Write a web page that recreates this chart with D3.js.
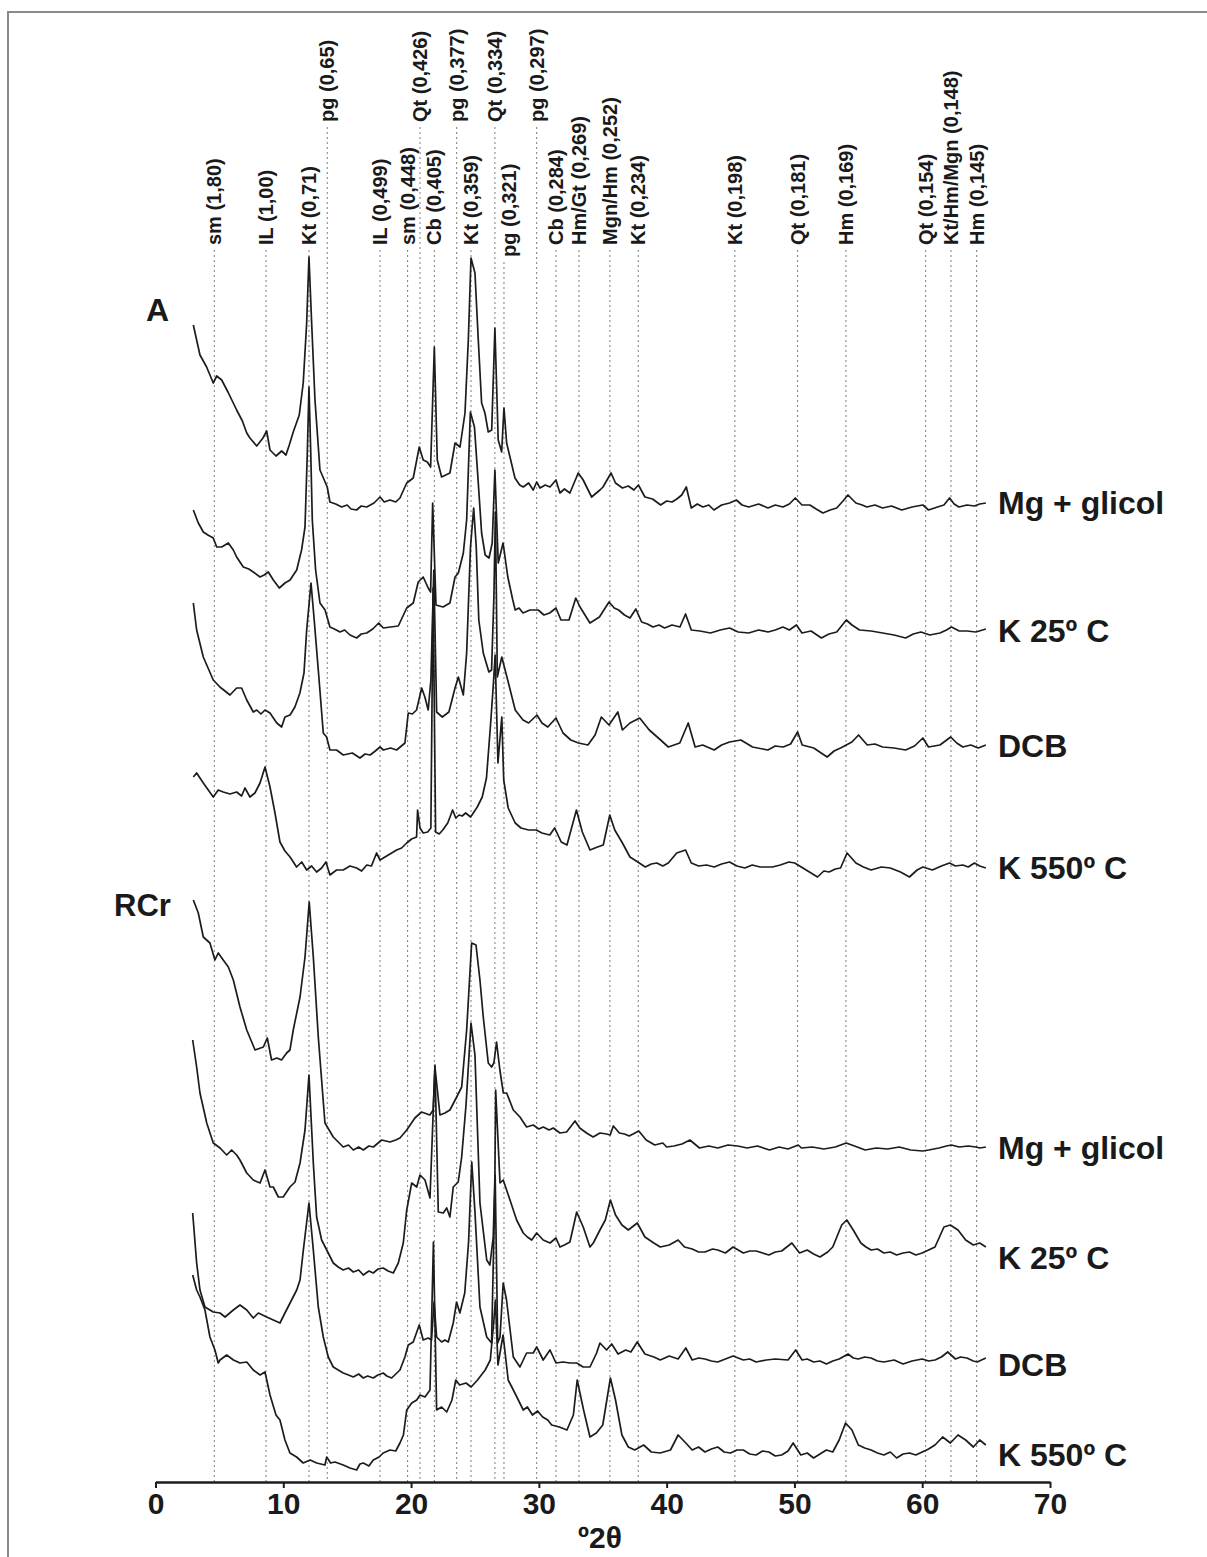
<!DOCTYPE html>
<html>
<head>
<meta charset="utf-8">
<script src="https://cdn.jsdelivr.net/npm/d3@7"></script>
<style>
  body { margin: 0; background: #fff; }
  svg text { font-family: "Liberation Sans", Arial, Helvetica, sans-serif; font-weight: bold; fill: #1a1a1a; }
</style>
</head>
<body>
<svg id="chart" width="1207" height="1557"></svg>
<script>
// ---- X axis ----
const xTicks = [0, 10, 20, 30, 40, 50, 60, 70];

// ---- Reference reflections: mineral (d-spacing in nm) and position in °2θ ----
const peakNames = ["sm (1,80)", "IL (1,00)", "Kt (0,71)", "pg (0,65)", "IL (0,499)", "sm (0,448)",
  "Qt (0,426)", "Cb (0,405)", "pg (0,377)", "Kt (0,359)", "Qt (0,334)", "pg (0,321)", "pg (0,297)",
  "Cb (0,284)", "Hm/Gt (0,269)", "Mgn/Hm (0,252)", "Kt (0,234)", "Kt (0,198)", "Qt (0,181)",
  "Hm (0,169)", "Qt (0,154)", "Kt/Hm/Mgn (0,148)", "Hm (0,145)"];
const peakPos = [4.60, 8.65, 12.01, 13.44, 17.57, 19.73, 20.70, 21.82, 23.57, 24.69, 26.56, 27.27, 29.83,
  31.34, 33.14, 35.56, 37.78, 45.34, 50.25, 54.03, 60.27, 62.25, 64.26];
// label row: 0 = lower row, 1 = upper row, 2 = shifted below the lower row
const peakRow = [0, 0, 0, 1, 0, 0, 1, 0, 1, 0, 1, 2, 1, 0, 0, 0, 0, 0, 0, 0, 0, 0, 0];

// ---- Diffractograms: [°2θ, relative intensity] ----
// Sample A
const aMgGlicol = [[2.96,182],[3.48,152],[4.0,140],[4.52,124],[4.79,131],[5.18,127],[5.67,115],[6.35,97],[6.8,86],[7.14,74],[7.39,69],[7.92,61],[8.41,69],[8.70,76],[8.96,57],[9.43,51],[9.87,56],[10.21,52],[10.47,62],[10.78,75],[11.25,92],[11.56,124],[11.83,184],[12.01,250],[12.22,184],[12.48,107],[12.87,37],[13.44,20],[13.65,5],[14.1,3],[14.57,0],[15.0,2],[15.3,-2],[15.74,-3],[16.1,1],[16.53,0],[17.1,4],[17.57,10],[17.9,5],[18.35,7],[18.8,5],[19.13,9],[19.66,24],[20.17,29],[20.64,60],[20.95,47],[21.27,45],[21.53,40],[21.82,160],[22.05,47],[22.39,30],[23.04,34],[23.44,64],[23.83,60],[24.22,94],[24.48,167],[24.69,249],[25.0,234],[25.26,167],[25.52,104],[25.78,94],[26.04,75],[26.31,77],[26.56,179],[26.82,67],[27.09,55],[27.27,99],[27.48,64],[27.74,50],[28.13,29],[28.5,22],[28.78,20],[29.2,24],[29.56,17],[29.83,25],[30.09,19],[30.5,22],[30.87,20],[31.34,27],[31.65,14],[32.0,18],[32.43,14],[33.08,34],[33.47,27],[34.13,10],[34.5,14],[34.78,17],[35.02,20],[35.65,34],[36.0,24],[36.54,19],[37.0,21],[37.44,17],[37.79,22],[38.3,10],[38.9,8],[39.53,2],[40.0,6],[40.42,5],[40.8,8],[41.18,12],[41.54,20],[41.93,-1],[42.4,3],[42.84,0],[43.3,2],[43.7,-3],[44.3,2],[44.92,4],[45.46,7],[45.9,2],[46.42,0],[47.2,3],[47.93,-1],[48.5,2],[49.1,0],[49.6,3],[50.07,9],[50.59,2],[51.21,2],[51.7,-2],[52.23,-6],[52.8,-3],[53.31,-1],[53.8,6],[54.19,12],[54.81,4],[55.3,2],[55.67,0],[56.3,2],[56.9,-1],[57.6,1],[58.4,-3],[59.2,0],[60.05,2],[60.49,-3],[61.2,0],[61.7,2],[62.14,9],[62.5,3],[62.87,0],[63.5,2],[64.09,1],[64.5,3],[64.98,4]];
const aK25 = [[2.96,123],[3.35,110],[3.74,101],[4.1,98],[4.52,95],[4.79,86],[5.18,86],[5.7,90],[6.09,83],[6.35,76],[6.87,66],[7.3,64],[7.65,61],[8.18,56],[8.5,58],[8.83,61],[9.22,53],[9.69,45],[10.13,50],[10.53,53],[11.05,63],[11.43,83],[11.7,106],[11.88,180],[12.01,246],[12.15,180],[12.27,113],[12.53,63],[12.87,30],[13.27,23],[13.65,6],[14.0,4],[14.44,1],[14.8,3],[15.22,-2],[15.74,-5],[16.1,-1],[16.53,0],[17.0,4],[17.47,10],[17.83,5],[18.4,6],[19.0,7],[19.66,25],[20.17,30],[20.56,51],[20.95,56],[21.34,45],[21.53,41],[21.69,130],[21.95,28],[22.5,26],[23.04,30],[23.44,56],[23.7,60],[24.09,80],[24.35,113],[24.64,221],[24.96,206],[25.26,150],[25.52,100],[25.8,78],[26.1,75],[26.35,90],[26.56,163],[26.82,70],[27.2,90],[27.57,56],[27.96,33],[28.15,23],[28.45,25],[28.76,20],[29.3,23],[29.95,23],[30.4,18],[30.85,20],[31.34,25],[31.73,13],[32.36,13],[32.89,35],[33.22,26],[34.0,10],[34.74,16],[35.49,31],[35.9,25],[36.24,23],[36.7,18],[37.13,15],[37.59,24],[38.04,11],[38.5,9],[38.93,6],[39.4,8],[39.84,5],[40.42,8],[41.04,6],[41.48,19],[41.93,3],[42.6,2],[43.43,0],[44.2,3],[44.92,5],[45.6,1],[46.42,0],[47.2,3],[47.93,1],[48.5,3],[49.1,6],[49.6,3],[50.16,8],[50.59,0],[51.3,2],[52.11,-5],[52.7,-1],[53.31,1],[54.06,13],[54.5,8],[55.1,3],[56.0,2],[56.9,0],[57.8,-2],[58.7,-5],[59.3,-1],[59.9,1],[60.6,-2],[61.39,0],[61.9,3],[62.29,6],[62.9,2],[63.49,2],[64.2,1],[64.98,4]];
const aDCB = [[2.96,144],[3.22,117],[3.74,90],[4.52,67],[5.04,60],[5.83,52],[6.35,59],[6.74,59],[7.14,47],[7.65,35],[7.92,37],[8.25,33],[8.57,37],[8.96,34],[9.49,24],[9.87,20],[10.13,30],[10.53,32],[10.91,40],[11.3,54],[11.62,74],[11.83,117],[12.17,164],[12.42,127],[12.74,77],[13.13,14],[13.39,10],[13.65,-3],[14.17,-3],[14.69,-8],[15.4,-6],[16.0,-11],[16.4,-7],[16.8,-8],[17.2,-4],[17.57,0],[17.83,-3],[18.4,-1],[18.87,-3],[19.52,4],[19.78,34],[20.1,33],[20.43,37],[20.83,59],[21.08,50],[21.34,37],[21.55,67],[21.78,177],[22.0,35],[22.44,30],[22.96,35],[23.44,59],[23.7,70],[24.09,52],[24.35,94],[24.65,200],[24.9,239],[25.1,200],[25.3,127],[25.65,94],[26.09,75],[26.3,77],[26.48,150],[26.6,235],[26.75,70],[27.1,90],[27.3,80],[27.56,67],[28.15,37],[28.76,27],[29.2,24],[29.85,32],[30.24,24],[30.7,20],[31.34,29],[31.89,14],[32.5,7],[33.1,4],[33.84,2],[34.4,12],[34.89,30],[35.49,22],[36.18,35],[36.54,17],[37.13,24],[37.89,29],[38.64,17],[39.53,7],[40.13,0],[41.03,4],[41.69,24],[42.23,0],[42.82,2],[43.72,-3],[44.3,2],[44.92,5],[45.81,7],[46.72,0],[47.92,-3],[48.5,1],[49.12,0],[49.7,3],[50.25,15],[50.61,2],[51.51,-1],[52.56,-10],[53.1,-4],[53.61,-1],[54.5,5],[55.02,12],[55.7,2],[56.3,3],[56.9,0],[57.8,-1],[58.7,-3],[59.4,1],[60.05,9],[60.49,0],[61.39,2],[62.23,10],[62.7,4],[63.18,0],[63.8,2],[64.39,-1],[64.98,2]];
const aK550 = [[2.96,91],[3.22,95],[3.74,85],[4.52,71],[4.91,78],[5.3,76],[5.83,74],[6.35,76],[6.74,72],[7.0,80],[7.39,71],[7.78,75],[8.18,85],[8.57,101],[8.96,81],[9.35,55],[9.74,26],[10.13,17],[10.53,11],[11.04,1],[11.44,6],[11.83,-2],[12.22,2],[12.61,-4],[13.0,0],[13.34,6],[13.65,-7],[14.17,-2],[14.69,-2],[15.22,2],[15.74,0],[16.13,-3],[16.53,3],[16.9,2],[17.3,15],[17.57,8],[17.83,10],[18.35,14],[18.87,18],[19.26,20],[19.66,25],[20.04,29],[20.43,31],[20.51,58],[20.7,40],[20.95,35],[21.3,36],[21.55,40],[21.72,280],[21.92,36],[22.2,34],[22.48,38],[22.87,45],[23.25,58],[23.5,50],[23.75,53],[24.0,52],[24.27,55],[24.66,51],[24.92,56],[25.18,61],[25.57,71],[25.9,90],[26.2,140],[26.42,180],[26.58,213],[26.8,105],[27.1,151],[27.25,88],[27.6,60],[28.15,45],[28.6,40],[29.2,38],[29.8,38],[30.24,35],[30.85,33],[31.24,40],[31.75,26],[32.2,23],[32.94,58],[33.4,36],[34.0,18],[34.59,21],[35.04,23],[35.55,53],[35.94,38],[36.54,25],[37.13,11],[37.74,6],[38.33,1],[38.8,4],[39.23,5],[39.7,2],[40.13,5],[40.79,15],[41.48,18],[41.93,5],[42.5,2],[43.13,3],[43.72,1],[44.3,4],[44.92,6],[45.5,2],[46.12,0],[46.7,3],[47.32,1],[48.28,1],[48.9,3],[49.56,6],[50.02,5],[50.92,-2],[51.81,-9],[52.3,-3],[52.71,-4],[53.2,-1],[53.61,0],[54.12,15],[54.81,5],[55.4,1],[56.0,-2],[56.8,1],[57.5,0],[58.3,-4],[59.0,-9],[59.6,-2],[60.05,1],[60.8,-2],[61.5,2],[62.14,5],[62.6,2],[63.18,3],[63.6,1],[64.09,5],[64.5,2],[64.98,0]];
// Sample RCr
const rMgGlicol = [[2.96,248],[3.35,235],[3.74,211],[4.26,205],[4.65,188],[4.91,195],[5.3,188],[5.7,181],[6.09,168],[6.61,141],[7.14,118],[7.79,98],[8.44,101],[8.75,110],[9.08,88],[9.5,90],[9.86,88],[10.26,95],[10.52,98],[10.78,118],[11.31,151],[11.7,191],[12.03,246],[12.35,191],[12.74,111],[13.26,25],[13.91,11],[14.3,6],[14.69,1],[15.1,3],[15.48,-2],[15.9,1],[16.26,-2],[16.7,2],[17.05,1],[17.7,8],[18.35,6],[18.8,8],[19.13,10],[19.66,18],[20.3,30],[20.82,36],[21.47,33],[21.73,38],[21.87,81],[22.26,33],[22.65,35],[23.04,38],[23.57,51],[23.96,61],[24.35,118],[24.74,205],[25.08,203],[25.39,168],[25.65,131],[26.04,85],[26.3,81],[26.48,85],[26.69,106],[26.95,78],[27.22,55],[27.48,55],[28.0,38],[28.52,31],[29.04,21],[29.56,23],[30.0,19],[30.35,21],[30.8,18],[31.13,20],[31.65,15],[32.17,16],[32.83,27],[33.2,20],[33.73,15],[34.25,11],[34.78,15],[35.3,14],[35.58,13],[35.83,22],[36.3,15],[36.7,14],[37.07,12],[37.82,17],[38.4,8],[39.07,3],[39.7,5],[40.0,1],[40.57,2],[41.2,4],[41.82,8],[42.57,0],[43.3,2],[44.0,0],[44.8,3],[45.56,2],[46.3,0],[47.1,2],[48.05,-2],[48.8,1],[49.5,-1],[50.3,3],[50.55,0],[51.4,1],[52.3,-1],[53.2,1],[54.05,5],[54.7,2],[55.54,-2],[56.4,0],[57.3,-1],[58.2,1],[59.1,-2],[60.03,-3],[60.52,-2],[61.3,0],[61.9,2],[62.28,3],[62.9,1],[63.6,2],[64.2,1],[64.52,0],[64.98,1]];
const rK25 = [[2.91,215],[3.22,188],[3.48,162],[4.01,132],[4.52,112],[5.05,107],[5.57,100],[5.96,105],[6.35,100],[6.61,95],[7.14,82],[7.65,75],[8.18,72],[8.57,85],[8.96,68],[9.22,68],[9.61,58],[10.0,58],[10.52,68],[10.92,73],[11.31,92],[11.7,125],[12.01,180],[12.35,92],[12.61,38],[13.0,15],[13.4,5],[13.91,-8],[14.3,-12],[14.69,-15],[15.1,-13],[15.48,-17],[15.9,-15],[16.26,-20],[16.7,-16],[17.04,-18],[17.42,-14],[17.82,-13],[18.2,-16],[18.61,-18],[19.0,-8],[19.39,12],[19.66,45],[20.05,72],[20.44,68],[20.7,80],[21.09,75],[21.48,57],[21.87,190],[22.13,43],[22.52,42],[22.79,47],[23.04,38],[23.3,68],[23.69,73],[23.96,98],[24.3,150],[24.69,232],[25.0,200],[25.39,52],[25.92,-5],[26.17,-10],[26.43,18],[26.56,78],[26.62,165],[26.96,72],[27.21,75],[27.74,55],[28.26,35],[28.78,22],[29.1,18],[29.44,15],[29.83,22],[30.34,15],[30.87,12],[31.34,17],[31.65,8],[32.0,10],[32.43,13],[32.96,43],[33.47,28],[34.0,8],[34.26,12],[34.78,25],[35.2,35],[35.6,55],[36.0,40],[36.5,30],[37.0,25],[37.7,32],[38.3,18],[39.0,12],[39.5,8],[40.2,10],[40.9,15],[41.4,8],[42.0,6],[42.5,3],[43.0,3],[43.6,6],[44.0,5],[44.6,2],[45.2,8],[46.0,2],[46.5,4],[47.0,4],[48.0,0],[48.5,3],[49.0,4],[49.8,12],[50.4,2],[51.0,5],[51.5,1],[52.0,-2],[52.6,3],[53.0,8],[53.7,30],[54.1,35],[54.6,25],[55.2,12],[55.6,8],[56.0,5],[56.5,6],[57.0,2],[57.5,3],[58.0,0],[58.5,2],[59.0,3],[59.5,0],[60.0,2],[60.5,5],[61.0,8],[61.7,28],[62.2,30],[62.8,25],[63.4,15],[64.0,10],[64.5,12],[64.98,8]];
const rDCB = [[2.91,149],[3.22,99],[3.48,72],[3.87,55],[4.52,50],[5.05,49],[5.44,45],[6.09,52],[6.61,57],[7.14,52],[7.65,44],[8.05,49],[8.7,45],[9.22,42],[9.74,39],[10.13,49],[10.65,62],[11.05,72],[11.31,82],[11.57,112],[12.01,159],[12.35,112],[12.74,55],[13.13,25],[13.52,5],[13.91,-5],[14.3,-8],[14.69,-11],[15.1,-13],[15.48,-15],[15.9,-12],[16.26,-16],[16.6,-14],[17.04,-16],[17.4,-13],[17.82,-11],[18.1,-14],[18.48,-16],[19.13,-8],[19.52,5],[19.78,17],[20.17,20],[20.64,37],[20.95,22],[21.34,24],[21.6,22],[21.8,60],[22.0,25],[22.39,20],[22.65,22],[22.91,20],[23.3,39],[23.56,60],[23.82,49],[24.2,69],[24.5,120],[24.75,200],[25.0,150],[25.39,55],[25.92,25],[26.3,19],[26.58,187],[26.78,19],[26.96,25],[27.21,79],[27.47,62],[28.0,5],[28.52,-5],[29.04,9],[29.56,9],[29.83,15],[30.34,2],[30.87,12],[31.34,-1],[31.9,0],[32.43,-1],[32.96,-1],[33.47,-5],[34.0,-5],[34.52,9],[34.78,19],[35.3,12],[35.7,18],[36.2,8],[36.8,12],[37.2,10],[37.7,20],[38.3,8],[39.0,5],[39.5,2],[40.2,6],[40.9,3],[41.5,14],[42.0,2],[42.5,4],[43.0,3],[43.5,1],[44.0,0],[44.6,3],[45.2,6],[46.0,2],[46.5,3],[47.0,0],[47.8,2],[48.5,3],[49.5,2],[50.1,12],[50.6,2],[51.0,3],[51.5,0],[52.0,1],[52.5,-2],[53.0,1],[53.5,3],[54.2,8],[54.6,4],[55.0,3],[55.5,5],[56.0,4],[56.5,1],[57.0,0],[57.8,2],[58.5,-2],[59.2,1],[60.0,3],[60.5,1],[61.0,2],[61.5,5],[62.0,10],[62.6,3],[63.0,5],[63.5,4],[64.0,1],[64.3,0],[64.98,4]];
const rK550 = [[2.91,180],[3.22,165],[3.48,158],[3.87,145],[4.26,118],[4.65,105],[4.91,92],[5.05,95],[5.57,100],[6.1,95],[6.61,92],[7.14,93],[7.65,85],[8.18,80],[8.57,83],[8.96,60],[9.43,40],[9.74,35],[10.13,15],[10.52,2],[11.04,-2],[11.56,-8],[12.1,-5],[12.61,-8],[13.26,-10],[13.4,-2],[13.7,-8],[14.04,-7],[14.69,-10],[15.22,-13],[15.74,-15],[16.0,-9],[16.26,-8],[16.7,-11],[17.04,-5],[17.5,-2],[17.82,2],[18.35,5],[18.8,4],[19.13,12],[19.4,20],[19.66,45],[20.05,52],[20.44,55],[20.7,60],[21.09,58],[21.48,65],[21.75,213],[22.0,45],[22.39,48],[22.79,43],[23.2,55],[23.5,75],[23.8,70],[24.3,72],[24.7,68],[25.2,75],[25.8,85],[26.2,95],[26.45,130],[26.6,155],[26.8,90],[27.2,120],[27.6,75],[28.2,60],[28.78,45],[29.1,48],[29.5,40],[29.9,44],[30.3,38],[30.7,35],[31.0,30],[31.6,28],[32.2,25],[32.7,40],[33.0,75],[33.5,45],[34.0,18],[34.5,22],[35.0,30],[35.6,77],[36.0,55],[36.5,20],[37.0,8],[37.5,5],[38.2,10],[38.8,3],[39.5,2],[40.3,5],[40.9,20],[41.5,12],[42.0,5],[42.5,8],[43.0,3],[43.5,6],[44.0,8],[44.5,3],[45.0,2],[45.5,5],[46.0,5],[46.5,1],[47.0,0],[47.5,4],[48.0,3],[48.5,-1],[49.0,0],[49.5,4],[49.9,12],[50.5,0],[51.0,2],[51.5,-3],[52.0,1],[52.5,5],[53.0,3],[53.5,15],[54.0,32],[54.5,25],[55.0,10],[55.5,7],[56.0,5],[56.5,2],[57.0,0],[57.5,3],[58.0,-3],[58.5,1],[59.0,2],[59.5,0],[60.0,3],[60.5,6],[61.0,10],[61.6,18],[62.2,12],[62.8,20],[63.4,15],[64.0,8],[64.5,15],[64.98,10]];

const seriesData = [aMgGlicol, aK25, aDCB, aK550, rMgGlicol, rK25, rDCB, rK550];
const seriesNames = ["Mg + glicol", "K 25º C", "DCB", "K 550º C", "Mg + glicol", "K 25º C", "DCB", "K 550º C"];
// vertical offset of each pattern in the stack (intensity units)
const seriesOffsets = [973, 847, 733, 612, 332, 225, 118, 25];
const sampleNames = ["A", "RCr"];

// ---- Layout ----
const svg = d3.select("#chart");
const x = d3.scaleLinear().domain([0, 70]).range([155.5, 1050]);
const y = d3.scaleLinear().domain([0, 1470]).range([1480, 10]);
const axisY = 1482;

// outer frame
svg.append("rect").attr("x", 8).attr("y", 12).attr("width", 1400).attr("height", 1700)
  .attr("fill", "none").attr("stroke", "#8a8a8a").attr("stroke-width", 2);

// reflection guide lines and labels
const rowBottom = [245, 122, 257];
const labelShift = peakNames.map(n => (n === "pg (0,321)" ? 12 : 7));
const peaks = svg.append("g");
peakPos.forEach((p, i) => {
  const px = x(p);
  peaks.append("line")
    .attr("x1", px).attr("x2", px)
    .attr("y1", rowBottom[peakRow[i]] + 5).attr("y2", axisY)
    .attr("stroke", "#7a7a7a").attr("stroke-width", 1).attr("stroke-dasharray", "2,3");
  peaks.append("text")
    .attr("transform", `translate(${px + labelShift[i]},${rowBottom[peakRow[i]]}) rotate(-90)`)
    .attr("text-anchor", "start")
    .attr("font-size", 20)
    .text(peakNames[i]);
});

// diffractogram traces
const line = d3.line().x(d => x(d[0])).y(d => y(d[1] + d[2]));
seriesData.forEach((s, i) => {
  const pts = s.map(d => [d[0], d[1], seriesOffsets[i]]);
  svg.append("path").datum(pts)
    .attr("d", line)
    .attr("fill", "none").attr("stroke", "#1c1c1c").attr("stroke-width", 1.7)
    .attr("stroke-linejoin", "round");
});

// treatment names at the right of each pattern
const labelY = [503, 631, 746, 868, 1148, 1258, 1365, 1455];
seriesNames.forEach((n, i) => {
  svg.append("text").attr("x", 998).attr("y", labelY[i])
    .attr("dominant-baseline", "central").attr("font-size", 32).text(n);
});

// sample names
svg.append("text").attr("x", 146).attr("y", 321).attr("font-size", 32).text(sampleNames[0]);
svg.append("text").attr("x", 114).attr("y", 916).attr("font-size", 31).text(sampleNames[1]);

// x axis
const axis = d3.axisBottom(x).tickValues(xTicks).tickSize(6).tickSizeOuter(0).tickPadding(5);
const gAxis = svg.append("g").attr("transform", `translate(0,${axisY})`).call(axis);
gAxis.select(".domain").attr("stroke", "#1c1c1c").attr("stroke-width", 2.5);
gAxis.selectAll(".tick line").attr("stroke", "#1c1c1c").attr("stroke-width", 2);
gAxis.selectAll(".tick text").attr("font-size", 30).attr("font-family", "Liberation Sans, Arial, sans-serif")
  .attr("font-weight", "bold").attr("fill", "#1a1a1a");

svg.append("text").attr("x", 600).attr("y", 1548).attr("text-anchor", "middle")
  .attr("font-size", 30).text("º2θ");
</script>
</body>
</html>
